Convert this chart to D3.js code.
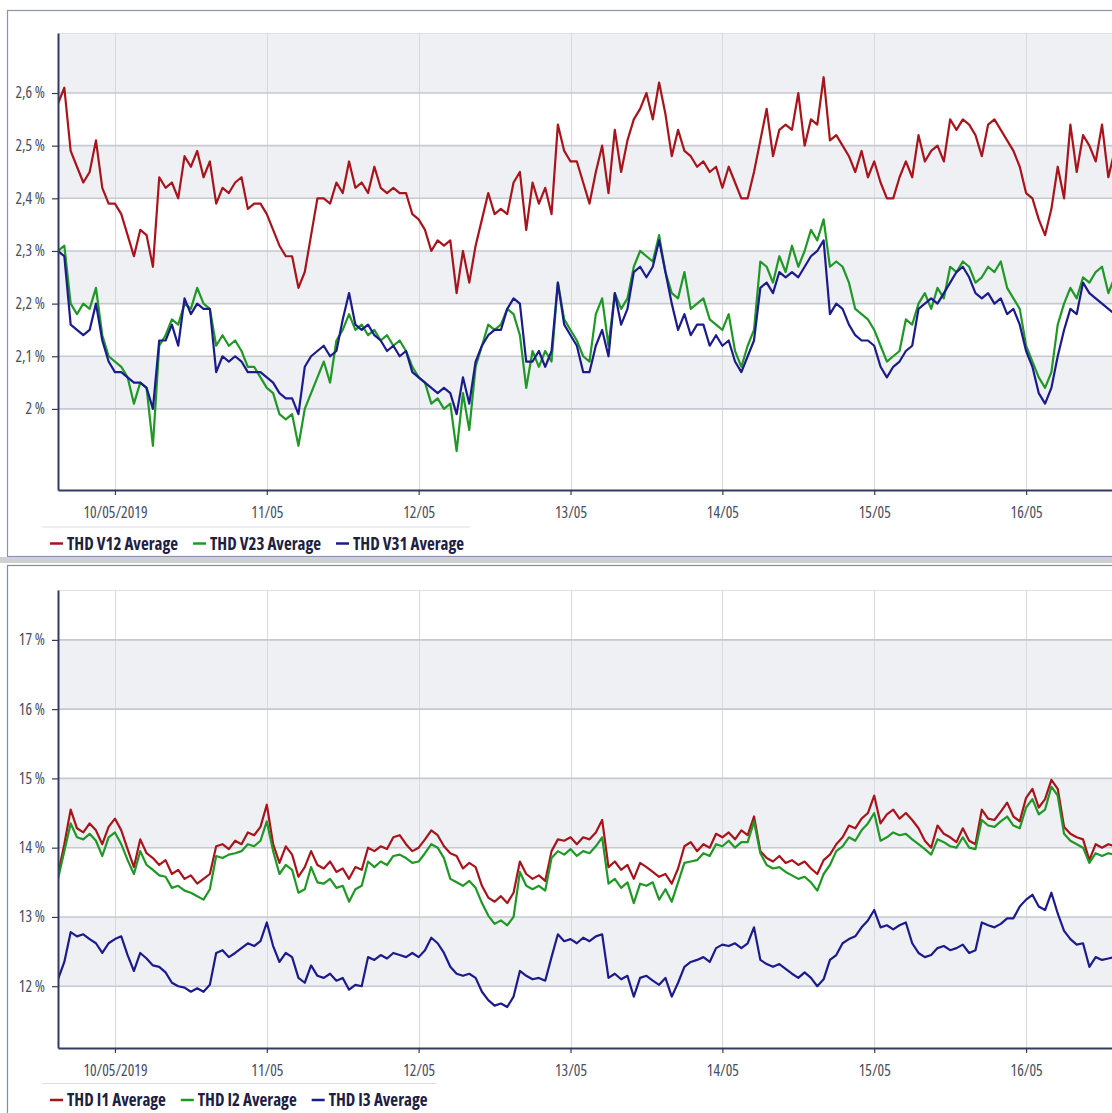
<!DOCTYPE html>
<html>
<head>
<meta charset="utf-8">
<script src="https://cdn.jsdelivr.net/npm/d3@7"></script>
<style>
  body { margin: 0; background: #ffffff; }
  svg { display: block; }
  text { font-family: "Open Sans", "Noto Sans", sans-serif; }
</style>
</head>
<body>
<svg id="chart" width="1112" height="1113"></svg>
<script>
// ---- Data: hourly averages starting 09/05/2019 15:00 ----
const seriesStart = new Date(2019, 4, 9, 15, 0);
const stepHours = 1;

const thdV12 = [
  2.58, 2.61, 2.49, 2.46, 2.43, 2.45, 2.51, 2.42, 2.39, 2.39,
  2.37, 2.33, 2.29, 2.34, 2.33, 2.27, 2.44, 2.42, 2.43, 2.40,
  2.48, 2.46, 2.49, 2.44, 2.47, 2.39, 2.42, 2.41, 2.43, 2.44,
  2.38, 2.39, 2.39, 2.37, 2.34, 2.31, 2.29, 2.29, 2.23, 2.26,
  2.33, 2.40, 2.40, 2.39, 2.43, 2.41, 2.47, 2.42, 2.43, 2.41,
  2.46, 2.42, 2.41, 2.42, 2.41, 2.41, 2.37, 2.36, 2.34, 2.30,
  2.32, 2.31, 2.32, 2.22, 2.30, 2.24, 2.31, 2.36, 2.41, 2.37,
  2.38, 2.37, 2.43, 2.45, 2.34, 2.43, 2.39, 2.42, 2.37, 2.54,
  2.49, 2.47, 2.47, 2.43, 2.39, 2.45, 2.50, 2.41, 2.53, 2.45,
  2.51, 2.55, 2.57, 2.60, 2.55, 2.62, 2.56, 2.48, 2.53, 2.49,
  2.48, 2.46, 2.47, 2.45, 2.46, 2.42, 2.46, 2.43, 2.40, 2.40,
  2.45, 2.51, 2.57, 2.48, 2.53, 2.54, 2.53, 2.60, 2.50, 2.55,
  2.54, 2.63, 2.51, 2.52, 2.50, 2.48, 2.45, 2.49, 2.44, 2.47,
  2.43, 2.40, 2.40, 2.44, 2.47, 2.44, 2.52, 2.47, 2.49, 2.50,
  2.47, 2.55, 2.53, 2.55, 2.54, 2.52, 2.48, 2.54, 2.55, 2.53,
  2.51, 2.49, 2.46, 2.41, 2.40, 2.36, 2.33, 2.38, 2.46, 2.40,
  2.54, 2.45, 2.52, 2.50, 2.47, 2.54, 2.44, 2.49
];
const thdV23 = [
  2.30, 2.31, 2.20, 2.18, 2.20, 2.19, 2.23, 2.14, 2.10, 2.09,
  2.08, 2.06, 2.01, 2.05, 2.04, 1.93, 2.12, 2.14, 2.17, 2.16,
  2.20, 2.19, 2.23, 2.20, 2.19, 2.12, 2.14, 2.12, 2.13, 2.11,
  2.08, 2.08, 2.06, 2.04, 2.03, 1.99, 1.98, 1.99, 1.93, 2.00,
  2.03, 2.06, 2.09, 2.05, 2.13, 2.15, 2.18, 2.15, 2.16, 2.14,
  2.15, 2.13, 2.14, 2.12, 2.13, 2.11, 2.08, 2.06, 2.05, 2.01,
  2.02, 2.00, 2.01, 1.92, 2.03, 1.96, 2.08, 2.12, 2.16, 2.15,
  2.16, 2.19, 2.18, 2.14, 2.04, 2.11, 2.08, 2.11, 2.09, 2.24,
  2.17, 2.15, 2.13, 2.10, 2.09, 2.18, 2.21, 2.12, 2.22, 2.19,
  2.21, 2.27, 2.30, 2.29, 2.28, 2.33, 2.26, 2.22, 2.21, 2.26,
  2.19, 2.20, 2.21, 2.17, 2.16, 2.15, 2.18, 2.11, 2.08, 2.12,
  2.15, 2.28, 2.27, 2.24, 2.29, 2.26, 2.31, 2.27, 2.30, 2.34,
  2.32, 2.36, 2.27, 2.28, 2.27, 2.24, 2.19, 2.18, 2.17, 2.15,
  2.12, 2.09, 2.10, 2.11, 2.17, 2.16, 2.20, 2.22, 2.19, 2.23,
  2.21, 2.27, 2.26, 2.28, 2.27, 2.24, 2.25, 2.27, 2.26, 2.28,
  2.23, 2.21, 2.19, 2.12, 2.09, 2.06, 2.04, 2.07, 2.16, 2.20,
  2.23, 2.21, 2.25, 2.24, 2.26, 2.27, 2.22, 2.25
];
const thdV31 = [
  2.30, 2.29, 2.16, 2.15, 2.14, 2.15, 2.20, 2.13, 2.09, 2.07,
  2.07, 2.06, 2.05, 2.05, 2.04, 2.00, 2.13, 2.13, 2.16, 2.12,
  2.21, 2.18, 2.20, 2.19, 2.19, 2.07, 2.10, 2.09, 2.10, 2.09,
  2.07, 2.07, 2.07, 2.06, 2.05, 2.03, 2.02, 2.02, 1.99, 2.08,
  2.10, 2.11, 2.12, 2.10, 2.11, 2.17, 2.22, 2.16, 2.15, 2.16,
  2.14, 2.13, 2.11, 2.12, 2.10, 2.11, 2.07, 2.06, 2.05, 2.04,
  2.03, 2.04, 2.03, 1.99, 2.06, 2.01, 2.09, 2.12, 2.14, 2.15,
  2.15, 2.19, 2.21, 2.20, 2.09, 2.09, 2.11, 2.08, 2.11, 2.24,
  2.16, 2.14, 2.12, 2.07, 2.07, 2.12, 2.15, 2.10, 2.22, 2.16,
  2.19, 2.26, 2.27, 2.25, 2.27, 2.32, 2.26, 2.20, 2.15, 2.18,
  2.14, 2.16, 2.16, 2.12, 2.14, 2.12, 2.13, 2.09, 2.07, 2.10,
  2.13, 2.23, 2.24, 2.22, 2.26, 2.25, 2.26, 2.25, 2.27, 2.29,
  2.30, 2.32, 2.18, 2.20, 2.19, 2.16, 2.14, 2.13, 2.13, 2.12,
  2.08, 2.06, 2.08, 2.09, 2.11, 2.12, 2.19, 2.20, 2.21, 2.20,
  2.22, 2.24, 2.26, 2.27, 2.25, 2.22, 2.21, 2.22, 2.20, 2.21,
  2.18, 2.19, 2.16, 2.11, 2.08, 2.03, 2.01, 2.04, 2.10, 2.15,
  2.19, 2.18, 2.24, 2.22, 2.21, 2.20, 2.19, 2.18
];

const thdI1 = [
  13.62, 14.05, 14.55, 14.28, 14.22, 14.35, 14.25, 14.05, 14.30, 14.42,
  14.25, 13.98, 13.72, 14.12, 13.92, 13.85, 13.75, 13.82, 13.62, 13.68,
  13.55, 13.60, 13.48, 13.55, 13.62, 14.02, 14.05, 13.98, 14.10, 14.05,
  14.22, 14.18, 14.30, 14.62, 14.05, 13.78, 14.02, 13.90, 13.58, 13.72,
  13.95, 13.75, 13.70, 13.80, 13.65, 13.70, 13.55, 13.72, 13.68, 14.00,
  13.95, 14.02, 13.98, 14.15, 14.18, 14.05, 13.95, 14.00, 14.12, 14.25,
  14.18, 14.02, 13.92, 13.88, 13.70, 13.78, 13.72, 13.45, 13.28, 13.22,
  13.30, 13.20, 13.35, 13.80, 13.62, 13.55, 13.60, 13.52, 13.95, 14.12,
  14.10, 14.15, 14.05, 14.15, 14.12, 14.22, 14.40, 13.72, 13.80, 13.68,
  13.75, 13.55, 13.78, 13.72, 13.65, 13.58, 13.62, 13.48, 13.70, 14.02,
  14.08, 13.95, 14.05, 14.00, 14.20, 14.15, 14.22, 14.12, 14.25, 14.18,
  14.45, 13.95, 13.85, 13.80, 13.88, 13.78, 13.82, 13.75, 13.80, 13.70,
  13.62, 13.82, 13.90, 14.05, 14.15, 14.32, 14.28, 14.42, 14.50, 14.75,
  14.35, 14.48, 14.55, 14.42, 14.50, 14.40, 14.28, 14.10, 14.00, 14.32,
  14.20, 14.15, 14.08, 14.28, 14.10, 14.05, 14.55, 14.42, 14.40, 14.52,
  14.65, 14.45, 14.38, 14.72, 14.85, 14.58, 14.70, 14.98, 14.85, 14.30,
  14.20, 14.15, 14.12, 13.82, 14.05, 14.00, 14.05, 14.02
];
const thdI2 = [
  13.55, 13.95, 14.35, 14.15, 14.12, 14.20, 14.10, 13.88, 14.15, 14.22,
  14.05, 13.82, 13.62, 13.95, 13.75, 13.68, 13.60, 13.58, 13.42, 13.45,
  13.38, 13.35, 13.30, 13.25, 13.40, 13.88, 13.85, 13.90, 13.92, 13.95,
  14.05, 14.02, 14.10, 14.38, 13.95, 13.62, 13.75, 13.68, 13.35, 13.40,
  13.72, 13.50, 13.48, 13.55, 13.42, 13.45, 13.22, 13.40, 13.45, 13.80,
  13.72, 13.80, 13.75, 13.88, 13.90, 13.85, 13.78, 13.80, 13.92, 14.05,
  14.00, 13.85, 13.55, 13.50, 13.45, 13.52, 13.42, 13.20, 13.02, 12.90,
  12.95, 12.88, 13.00, 13.65, 13.45, 13.40, 13.45, 13.38, 13.85, 13.95,
  13.90, 13.98, 13.88, 13.95, 13.92, 14.02, 14.15, 13.48, 13.55, 13.42,
  13.50, 13.20, 13.48, 13.45, 13.50, 13.25, 13.40, 13.22, 13.50, 13.78,
  13.80, 13.82, 13.92, 13.88, 14.05, 14.02, 14.10, 14.00, 14.08, 14.08,
  14.38, 13.92, 13.75, 13.70, 13.72, 13.65, 13.60, 13.55, 13.58, 13.50,
  13.38, 13.62, 13.75, 13.95, 14.02, 14.15, 14.10, 14.25, 14.35, 14.50,
  14.10, 14.15, 14.22, 14.18, 14.20, 14.12, 14.05, 13.98, 13.90, 14.12,
  14.08, 14.02, 14.00, 14.15, 14.00, 13.98, 14.40, 14.32, 14.30, 14.38,
  14.45, 14.32, 14.28, 14.58, 14.70, 14.48, 14.55, 14.88, 14.75, 14.20,
  14.10, 14.05, 14.00, 13.78, 13.92, 13.88, 13.92, 13.90
];
const thdI3 = [
  12.10, 12.35, 12.78, 12.72, 12.75, 12.68, 12.62, 12.48, 12.62, 12.68,
  12.72, 12.45, 12.22, 12.48, 12.40, 12.30, 12.28, 12.20, 12.05, 12.00,
  11.98, 11.92, 11.97, 11.92, 12.02, 12.48, 12.52, 12.42, 12.48, 12.55,
  12.62, 12.58, 12.65, 12.92, 12.58, 12.35, 12.48, 12.42, 12.12, 12.05,
  12.30, 12.15, 12.12, 12.18, 12.08, 12.12, 11.95, 12.02, 12.00, 12.42,
  12.38, 12.45, 12.40, 12.48, 12.45, 12.42, 12.48, 12.42, 12.52, 12.70,
  12.62, 12.48, 12.28, 12.18, 12.15, 12.18, 12.12, 11.92, 11.80, 11.72,
  11.75, 11.70, 11.85, 12.22, 12.15, 12.10, 12.12, 12.08, 12.42, 12.75,
  12.65, 12.68, 12.62, 12.70, 12.65, 12.72, 12.75, 12.12, 12.18, 12.10,
  12.15, 11.85, 12.12, 12.15, 12.08, 12.02, 12.12, 11.85, 12.05, 12.28,
  12.35, 12.38, 12.42, 12.35, 12.55, 12.60, 12.58, 12.62, 12.55, 12.62,
  12.85, 12.38, 12.32, 12.28, 12.32, 12.25, 12.18, 12.12, 12.20, 12.12,
  12.00, 12.10, 12.38, 12.45, 12.62, 12.68, 12.72, 12.85, 12.95, 13.10,
  12.85, 12.88, 12.82, 12.88, 12.92, 12.62, 12.48, 12.42, 12.45, 12.55,
  12.58, 12.52, 12.55, 12.60, 12.48, 12.52, 12.92, 12.88, 12.85, 12.90,
  12.98, 12.98, 13.15, 13.25, 13.32, 13.15, 13.10, 13.35, 13.05, 12.80,
  12.68, 12.60, 12.62, 12.28, 12.42, 12.38, 12.40, 12.42
];

const voltageTicks = [2.0, 2.1, 2.2, 2.3, 2.4, 2.5, 2.6];
const currentTicks = [12, 13, 14, 15, 16, 17];
const dayTicks = [10, 11, 12, 13, 14, 15, 16].map(d => new Date(2019, 4, d));
const dayTickLabels = ["10/05/2019", "11/05", "12/05", "13/05", "14/05", "15/05", "16/05"];
const voltageNames = ["THD V12 Average", "THD V23 Average", "THD V31 Average"];
const currentNames = ["THD I1 Average", "THD I2 Average", "THD I3 Average"];
const seriesColors = ["#a8141b", "#1f9826", "#1b1b8c"];

// ---- Drawing ----
const W = 1112;
const svg = d3.select("#chart");
const axisColor = "#353a63";
const plotLeft = 58;

const x = d3.scaleTime()
  .domain([seriesStart, d3.timeHour.offset(seriesStart, 168)])
  .range([plotLeft, 1121]);
const timeAt = i => d3.timeHour.offset(seriesStart, i * stepHours);

const pctLabel = v => String(+v.toFixed(1)).replace(".", ",") + " %";

// panel frames and the splitter between them
svg.append("rect").attr("x", 7.5).attr("y", 10.5).attr("width", W).attr("height", 546)
  .attr("fill", "#ffffff").attr("stroke", "#8a92ad").attr("stroke-width", 1.2);
svg.append("rect").attr("x", 0).attr("y", 557).attr("width", W).attr("height", 6)
  .attr("fill", "#cfd0d3");
svg.append("rect").attr("x", 7.5).attr("y", 565.5).attr("width", W).attr("height", 560)
  .attr("fill", "#ffffff").attr("stroke", "#7f8cb0").attr("stroke-width", 1.2);

function drawPanel(cfg, idx) {
  const g = svg.append("g");
  const y = d3.scaleLinear().domain(cfg.domain).range([cfg.bottom, cfg.top]);

  const clipId = "plotClip" + idx;
  svg.append("defs").append("clipPath").attr("id", clipId)
    .append("rect").attr("x", plotLeft).attr("y", cfg.top)
    .attr("width", W - plotLeft).attr("height", cfg.bottom - cfg.top);

  // alternating horizontal bands
  cfg.ticks.forEach((t, i) => {
    if (i % 2 !== 0) return;
    const hi = i + 1 < cfg.ticks.length ? cfg.ticks[i + 1] : cfg.domain[1];
    g.append("rect")
      .attr("x", plotLeft).attr("y", y(hi))
      .attr("width", W - plotLeft).attr("height", y(t) - y(hi))
      .attr("fill", "#eef0f4");
  });

  // top edge of plot area
  g.append("line").attr("x1", plotLeft).attr("x2", W)
    .attr("y1", cfg.top + 0.5).attr("y2", cfg.top + 0.5)
    .attr("stroke", "#dfe1e6").attr("stroke-width", 1);

  // vertical day grid
  g.selectAll(".vgrid").data(dayTicks).join("line")
    .attr("x1", d => Math.round(x(d)) + 0.5).attr("x2", d => Math.round(x(d)) + 0.5)
    .attr("y1", cfg.top).attr("y2", cfg.bottom)
    .attr("stroke", "#d6d9df").attr("stroke-width", 1);

  // horizontal grid at ticks
  g.selectAll(".hgrid").data(cfg.ticks).join("line")
    .attr("x1", plotLeft).attr("x2", W)
    .attr("y1", d => y(d)).attr("y2", d => y(d))
    .attr("stroke", "#c6c9d0").attr("stroke-width", 1.6);

  // series
  const line = d3.line()
    .x((d, i) => x(timeAt(i)))
    .y(d => y(d));
  const lines = g.append("g").attr("clip-path", `url(#${clipId})`);
  cfg.series.forEach((s, k) => {
    lines.append("path").datum(s)
      .attr("fill", "none")
      .attr("stroke", seriesColors[k])
      .attr("stroke-width", 2.2)
      .attr("stroke-linejoin", "round")
      .attr("d", line);
  });

  // axes
  const yAxis = g.append("g").attr("transform", `translate(${plotLeft},0)`)
    .call(d3.axisLeft(y).tickValues(cfg.ticks).tickFormat(pctLabel)
      .tickSize(6).tickSizeOuter(0).tickPadding(7));
  const xAxis = g.append("g").attr("transform", `translate(0,${cfg.bottom})`)
    .call(d3.axisBottom(x).tickValues(dayTicks).tickFormat((d, i) => dayTickLabels[i])
      .tickSize(5).tickSizeOuter(0).tickPadding(12));
  [yAxis, xAxis].forEach(a => {
    a.select(".domain").attr("stroke", axisColor).attr("stroke-width", 2);
    a.selectAll(".tick line").attr("stroke", axisColor).attr("stroke-width", 1.2);
    a.selectAll("text").attr("fill", "#4a4d5c")
      .style("font-family", "'Open Sans', sans-serif")
      .style("font-size", "15.5px")
      .style("font-stretch", "87.5%");
  });

  // legend
  const lg = g.append("g");
  lg.append("line").attr("x1", 42).attr("x2", cfg.legendRight)
    .attr("y1", cfg.legendY - 16.5).attr("y2", cfg.legendY - 16.5)
    .attr("stroke", "#dcdee4").attr("stroke-width", 1);
  let cx = 50;
  cfg.names.forEach((name, k) => {
    lg.append("line").attr("x1", cx).attr("x2", cx + 13)
      .attr("y1", cfg.legendY).attr("y2", cfg.legendY)
      .attr("stroke", seriesColors[k]).attr("stroke-width", 2.5);
    const t = lg.append("text").attr("x", cx + 17).attr("y", cfg.legendY)
      .attr("dy", "0.36em")
      .attr("fill", "#1d2040")
      .style("font-size", "17px").style("font-weight", 700)
      .style("font-stretch", "87.5%")
      .text(name);
    cx += 17 + t.node().getComputedTextLength() + 15;
  });
}

drawPanel({
  top: 33, bottom: 490, domain: [1.846, 2.714], ticks: voltageTicks,
  series: [thdV12, thdV23, thdV31], names: voltageNames,
  legendY: 543.5, legendRight: 470
}, 0);

drawPanel({
  top: 590, bottom: 1048, domain: [11.108, 17.72], ticks: currentTicks,
  series: [thdI1, thdI2, thdI3], names: currentNames,
  legendY: 1100, legendRight: 436
}, 1);
</script>
</body>
</html>
